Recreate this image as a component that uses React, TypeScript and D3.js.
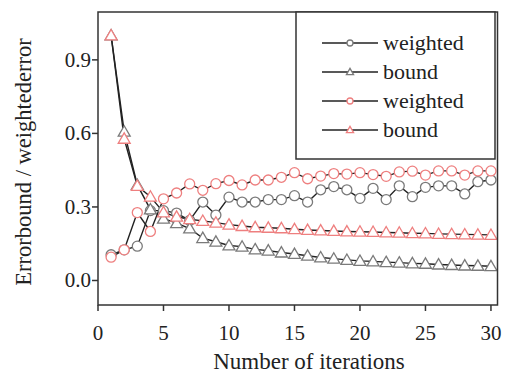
import React from "react";
import * as d3 from "d3";

const iterations = [1, 2, 3, 4, 5, 6, 7, 8, 9, 10, 11, 12, 13, 14, 15, 16, 17, 18, 19, 20, 21, 22, 23, 24, 25, 26, 27, 28, 29, 30];
const weightedA = [0.105, 0.125, 0.14, 0.285, 0.285, 0.275, 0.245, 0.32, 0.267, 0.34, 0.32, 0.32, 0.33, 0.33, 0.346, 0.32, 0.37, 0.383, 0.37, 0.335, 0.376, 0.33, 0.386, 0.342, 0.38, 0.386, 0.386, 0.353, 0.403, 0.41];
const boundA = [1.0, 0.607, 0.39, 0.29, 0.252, 0.234, 0.212, 0.173, 0.158, 0.143, 0.138, 0.127, 0.122, 0.114, 0.108, 0.101, 0.094, 0.089, 0.084, 0.08, 0.078, 0.075, 0.073, 0.07, 0.068, 0.065, 0.063, 0.061, 0.06, 0.058];
const weightedB = [0.095, 0.125, 0.277, 0.2, 0.333, 0.357, 0.394, 0.368, 0.395, 0.408, 0.39, 0.41, 0.41, 0.421, 0.44, 0.415, 0.426, 0.436, 0.434, 0.44, 0.432, 0.425, 0.443, 0.446, 0.43, 0.447, 0.447, 0.43, 0.447, 0.447];
const boundB = [1.0, 0.578, 0.386, 0.342, 0.278, 0.26, 0.25, 0.243, 0.236, 0.228, 0.222, 0.217, 0.215, 0.213, 0.209, 0.206, 0.204, 0.202, 0.2, 0.199, 0.198, 0.196, 0.195, 0.193, 0.192, 0.19, 0.189, 0.188, 0.187, 0.186];
const seriesNames = ["weighted", "bound", "weighted", "bound"];
const xTicks = [0, 5, 10, 15, 20, 25, 30];
const yTicks = [0.0, 0.3, 0.6, 0.9];

const GRAY = "#7a7a7a";
const PINK = "#ee7f7f";
const LINE = "#222";
const FONT = "Liberation Serif, Times New Roman, DejaVu Serif, serif";

export default function App() {
  const W = 505, H = 374;
  const left = 98, right = 497.5, top = 12, bottom = 305;
  const x = d3.scaleLinear().domain([0, 30.5]).range([left, right]);
  const y = d3.scaleLinear().domain([-0.1, 1.0953]).range([bottom, top]);

  const series = [
    { name: seriesNames[0], values: weightedA, color: GRAY, shape: "circle" },
    { name: seriesNames[1], values: boundA, color: GRAY, shape: "triangle" },
    { name: seriesNames[2], values: weightedB, color: PINK, shape: "circle" },
    { name: seriesNames[3], values: boundB, color: PINK, shape: "triangle" },
  ];

  const line = d3.line<number>().x((_, i) => x(iterations[i])).y((v) => y(v));
  const tri = d3.symbol().type(d3.symbolTriangle).size(62)()!;
  const triSmall = d3.symbol().type(d3.symbolTriangle).size(22)()!;

  const marker = (shape: string, cx: number, cy: number, color: string, key: any, small = false) =>
    shape === "circle" ? (
      <circle key={key} cx={cx} cy={cy} r={small ? 3 : 5} fill="white" stroke={color} strokeWidth={1.3} />
    ) : (
      <path key={key} d={small ? triSmall : tri} transform={`translate(${cx},${cy + (small ? 0.5 : 1)})`} fill="white" stroke={color} strokeWidth={1.3} />
    );

  const legX = 296, legY = 12, legW = 199, legH = 147;
  const rowY = [43, 72, 101, 130];
  const txt = { fontFamily: FONT, fill: "#222" } as React.CSSProperties;

  return (
    <svg width={W} height={H} style={{ position: "absolute", left: 0, top: 0, background: "white", fontFamily: FONT }}>
      <rect x={0} y={0} width={W} height={H} fill="white" />
      {series.map((s, si) => (
        <path key={"l" + si} d={line(s.values)!} fill="none" stroke={LINE} strokeWidth={1.4} />
      ))}
      {series.map((s, si) => (
        <g key={"m" + si}>{s.values.map((v, i) => marker(s.shape, x(iterations[i]), y(v), s.color, i))}</g>
      ))}
      <rect x={left} y={top} width={right - left} height={bottom - top} fill="none" stroke="#333" strokeWidth={1.5} />
      {xTicks.map((t) => (
        <g key={"xt" + t}>
          <line x1={x(t)} x2={x(t)} y1={bottom} y2={bottom + 6} stroke="#333" strokeWidth={1.5} />
          <text x={x(t)} y={340} textAnchor="middle" fontSize={21} style={txt}>{t}</text>
        </g>
      ))}
      {yTicks.map((t) => (
        <g key={"yt" + t}>
          <line x1={left - 6} x2={left} y1={y(t)} y2={y(t)} stroke="#333" strokeWidth={1.5} />
          <text x={91} y={y(t) + 7} textAnchor="end" fontSize={21} style={txt}>{t.toFixed(1)}</text>
        </g>
      ))}
      <text x={309} y={369} textAnchor="middle" fontSize={23} style={txt}>Number of iterations</text>
      <text transform={`translate(31,162) rotate(-90)`} textAnchor="middle" fontSize={22.5} style={txt}>Errorbound / weightederror</text>
      <rect x={legX} y={legY} width={legW} height={legH} fill="white" stroke="#333" strokeWidth={1.5} />
      {series.map((s, i) => (
        <g key={"lg" + i}>
          <line x1={322} x2={378} y1={rowY[i]} y2={rowY[i]} stroke={LINE} strokeWidth={1.4} />
          {marker(s.shape, 350, rowY[i], s.color, "lm" + i, true)}
          <text x={383} y={rowY[i] + 7} fontSize={22} style={txt}>{s.name}</text>
        </g>
      ))}
    </svg>
  );
}
